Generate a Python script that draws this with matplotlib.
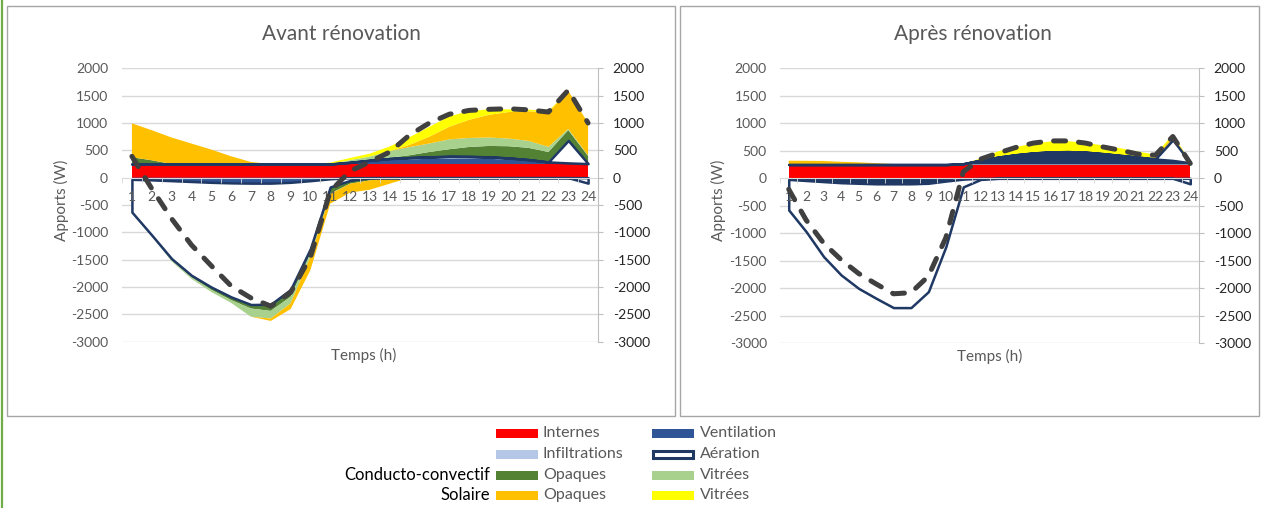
import numpy as np
import matplotlib
matplotlib.use("Agg")
import matplotlib.pyplot as plt
from matplotlib.patches import Rectangle
from matplotlib.lines import Line2D

plt.rcParams['font.family'] = ['Lato', 'DejaVu Sans']
plt.rcParams['axes.unicode_minus'] = False

# ---------------- data ----------------
hours = list(range(1, 25))
tick_labels = [str(h) for h in hours]
y_ticks = list(range(-3000, 2001, 500))

titles = ["Avant rénovation", "Après rénovation"]
y_title = "Apports (W)"
x_title = "Temps (h)"
series_names = ["Internes", "Ventilation", "Infiltrations", "Aération",
                "Opaques", "Vitrées", "Opaques", "Vitrées"]
group_labels = ["Conducto-convectif", "Solaire"]

# Avant rénovation
av_internes = [250] * 24
av_ventilation = [-30, -40, -55, -70, -85, -95, -100, -100, -85, -55, -20, 25,
                  55, 75, 85, 95, 100, 100, 95, 80, 60, 30, 15, 5]
av_infiltrations = [0, 0, 0, 0, 0, 0, 0, 0, 0, 0, 0, 5,
                    13, 25, 32, 35, 40, 38, 35, 30, 20, 7, 5, 2]
av_aeration = [-600, -1010, -1425, -1715, -1915, -2085, -2220, -2215, -1960, -1240, -150, -50,
               0, 0, 0, 0, 0, 0, 0, 0, 0, 0, 410, -100]
av_cc_opaques = [123, 68, -30, -35, -50, -60, -73, -122, -134, -93, -120, -60,
                 -50, 15, 43, 90, 130, 173, 200, 215, 215, 183, 190, 140]
av_cc_vitrees = [-10, -20, -20, -30, -40, -50, -150, -140, -120, -60, -10, 40,
                 70, 120, 150, 155, 180, 165, 154, 140, 128, 93, 20, 10]
av_sol_opaques = [620, 550, 484, 374, 264, 141, 37, -43, -105, -243, -175, -164,
                  -170, -110, 40, 125, 230, 332, 416, 485, 542, 627, 700, 590]
av_sol_vitrees = [0, 0, 0, 0, 0, 0, 0, 0, 0, 0, 25, 40,
                  52, 85, 140, 180, 190, 160, 100, 50, 30, 25, 0, 0]
av_total = [390, -200, -750, -1230, -1610, -1980, -2200, -2350, -2100, -1450, -250, 120,
            290, 470, 780, 1000, 1160, 1230, 1250, 1260, 1240, 1200, 1600, 1000]

# Après rénovation
ap_internes = [250] * 24
ap_ventilation = [-20, -40, -60, -80, -90, -100, -100, -100, -90, -50, 15, 80,
                  130, 170, 200, 220, 225, 215, 190, 160, 130, 95, 70, 30]
ap_infiltrations = [0, 0, 0, 0, 0, 0, 0, 0, 0, 0, -15, 0,
                    5, 8, 10, 10, 10, 10, 8, 6, 5, 5, 5, 2]
ap_aeration = [-556, -930, -1364, -1677, -1910, -2080, -2251, -2251, -1970, -1192, -140, -20,
               0, 0, 0, 0, 0, 0, 0, 0, 0, 0, 375, -100]
ap_cc_opaques = [-10, -10, -12, -12, -15, -15, -15, -15, -12, -10, -5, 0,
                 5, 5, 5, 5, 5, 5, 5, 5, 5, 5, 10, 5]
ap_cc_vitrees = [-5, -5, -5, -5, -5, -8, -8, -8, -5, -5, 0, 5,
                 5, 5, 5, 5, 5, 5, 5, 5, 5, 5, 10, 5]
ap_sol_opaques = [70, 68, 65, 50, 40, 25, 10, 0, 0, 0, 0, 0,
                  0, 0, 0, 0, 0, 0, 0, 0, 0, 15, 50, 10]
ap_sol_vitrees = [0, 0, 0, 0, 0, 0, 0, 0, 0, 0, 5, 25,
                  95, 130, 160, 180, 180, 160, 140, 120, 90, 55, 30, 5]
ap_total = [-200, -760, -1180, -1480, -1730, -1920, -2100, -2080, -1780, -1080, 120, 350,
            460, 560, 640, 680, 680, 640, 570, 510, 440, 420, 760, 270]

# ---------------- style ----------------
C_INT = '#FF0000'
C_VENT = '#2F5597'
C_VENT_R = '#203864'
C_INF = '#B4C7E7'
C_AER_EDGE = '#1F3864'
C_CCO = '#548235'
C_CCV = '#A9D18E'
C_SO = '#FFC000'
C_SV = '#FFFF00'
GRAY_TXT = '#595959'
GRID = '#D9D9D9'

W, H = 1265, 508
fig = plt.figure(figsize=(W / 100, H / 100), dpi=100)


def fx(px):
    return px / W


def fy(py):
    return 1 - py / H


# chart frames
for (x0, y0, x1, y1) in [(7, 6, 675, 416), (680, 6, 1259, 416)]:
    fig.patches.append(Rectangle((fx(x0), fy(y1)), fx(x1) - fx(x0), fy(y0) - fy(y1),
                                 transform=fig.transFigure, fill=False,
                                 edgecolor='#A6A6A6', linewidth=1))
fig.add_artist(Line2D([fx(2), fx(2)], [0, 1], color='#70AD47', linewidth=1.6,
                      transform=fig.transFigure))


def panel(rect, series, vent_color, total, title, title_xy, ylab_xy, xlab_xy, ypad):
    ax = fig.add_axes(rect)
    x = np.array(hours, dtype=float)
    colors = [C_INT, vent_color, C_INF, 'white', C_CCO, C_CCV, C_SO, C_SV]
    pos_base = np.zeros(len(hours))
    neg_base = np.zeros(len(hours))
    for name, vals, col in zip(series_names, series, colors):
        v = np.array(vals, dtype=float)
        p = np.clip(v, 0, None)
        n = np.clip(v, None, 0)
        if name == "Aération":
            kw = dict(facecolor='white', edgecolor=C_AER_EDGE, linewidth=1.8, zorder=2.2)
        else:
            kw = dict(facecolor=col, linewidth=0, zorder=2)
        ax.fill_between(x, pos_base, pos_base + p, **kw)
        ax.fill_between(x, neg_base, neg_base + n, **kw)
        pos_base = pos_base + p
        neg_base = neg_base + n

    for yv in y_ticks:
        if yv != 0:
            ax.axhline(yv, color=GRID, linewidth=1, zorder=0.5)

    ax.set_xlim(0.5, 24.5)
    ax.set_ylim(-3000, 2000)
    ax.set_axisbelow(False)
    for s in ['left', 'top', 'right']:
        ax.spines[s].set_visible(False)
    ax.spines['bottom'].set_position(('data', 0))
    ax.spines['bottom'].set_color(GRID)
    ax.spines['bottom'].set_zorder(2.4)
    ax.set_xticks(hours)
    ax.set_xticklabels(tick_labels)
    ax.set_xticks(np.arange(0.5, 25, 1), minor=True)
    ax.tick_params(axis='x', which='major', length=0, pad=9.5, labelsize=10,
                   labelcolor=GRAY_TXT)
    ax.tick_params(axis='x', which='minor', length=3.5, color=GRID, direction='out')
    ax.set_yticks(y_ticks)
    ax.tick_params(axis='y', length=0, pad=ypad, labelsize=10, labelcolor=GRAY_TXT)
    ax.patch.set_visible(False)

    ax2 = ax.twinx()
    ax2.set_ylim(-3000, 2000)
    ax2.set_yticks(y_ticks)
    for s in ['left', 'top', 'bottom']:
        ax2.spines[s].set_visible(False)
    ax2.spines['right'].set_color('#BFBFBF')
    ax2.tick_params(axis='y', length=3.6, color='#BFBFBF', pad=7, labelsize=10,
                    labelcolor='#262626')
    ax2.plot(hours, total, color='#404040', linewidth=3.6, dashes=(2.4, 2.6),
             dash_capstyle='round', solid_joinstyle='round', zorder=5)

    fig.text(fx(title_xy[0]), fy(title_xy[1]), title, ha='center', va='center',
             fontsize=15, color=GRAY_TXT)
    fig.text(fx(ylab_xy[0]), fy(ylab_xy[1]), y_title, ha='center', va='center',
             rotation=90, fontsize=11, color=GRAY_TXT)
    fig.text(fx(xlab_xy[0]), fy(xlab_xy[1]), x_title, ha='center', va='center',
             fontsize=11, color=GRAY_TXT)
    return ax


av_series = [av_internes, av_ventilation, av_infiltrations, av_aeration,
             av_cc_opaques, av_cc_vitrees, av_sol_opaques, av_sol_vitrees]
ap_series = [ap_internes, ap_ventilation, ap_infiltrations, ap_aeration,
             ap_cc_opaques, ap_cc_vitrees, ap_sol_opaques, ap_sol_vitrees]

panel([fx(122), fy(341.7), fx(598) - fx(122), fy(68.3) - fy(341.7)],
      av_series, C_VENT, av_total, titles[0], (341, 34), (61, 200), (364, 355), 10)
panel([fx(780), fy(343.3), fx(1199) - fx(780), fy(68.3) - fy(343.3)],
      ap_series, C_VENT_R, ap_total, titles[1], (973, 34), (718, 200), (990, 356), 9.5)

# ---------------- legend ----------------
leg_colors = [C_INT, C_VENT, C_INF, None, C_CCO, C_CCV, C_SO, C_SV]
rows_y = [433, 454, 475, 495]
cols = [(496, 543), (652, 700)]
for i, (name, col) in enumerate(zip(series_names, leg_colors)):
    r, c = divmod(i, 2)
    px0, tx = cols[c]
    yc = rows_y[r]
    if col is None:
        rect = Rectangle((fx(px0 + 1), fy(yc + 3.5)), fx(42) - fx(0) - fx(2), fy(0) - fy(7),
                         transform=fig.transFigure, facecolor='white',
                         edgecolor=C_AER_EDGE, linewidth=2.2)
    else:
        rect = Rectangle((fx(px0), fy(yc + 4.5)), fx(42), fy(0) - fy(9),
                         transform=fig.transFigure, facecolor=col, edgecolor='none')
    fig.patches.append(rect)
    fig.text(fx(tx), fy(yc), name, ha='left', va='center', fontsize=11.5, color=GRAY_TXT)

fig.text(fx(490), fy(rows_y[2]), group_labels[0], ha='right', va='center',
         fontsize=12, color='black')
fig.text(fx(490), fy(rows_y[3]), group_labels[1], ha='right', va='center',
         fontsize=12, color='black')

fig.savefig("out.png", dpi=100)
